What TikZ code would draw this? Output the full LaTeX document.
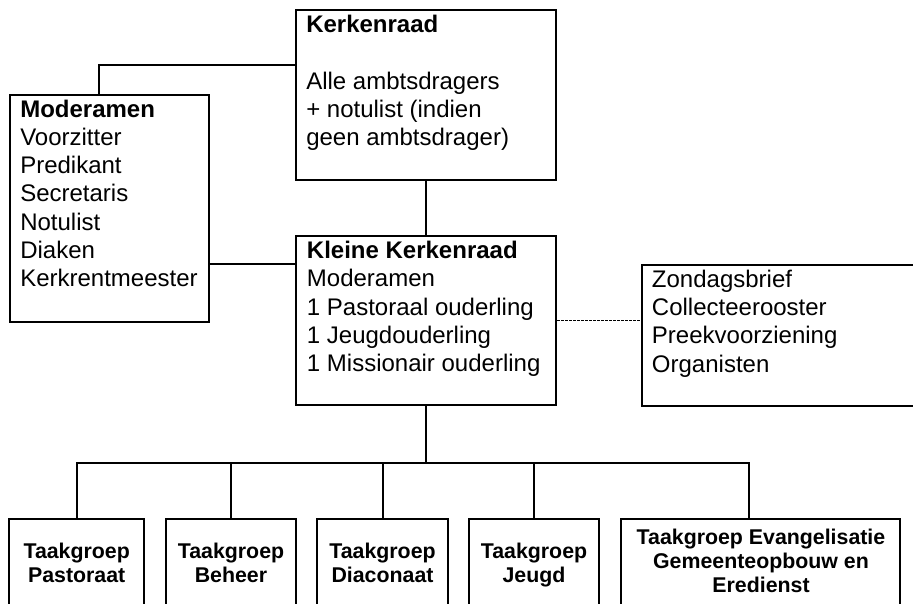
\documentclass[tikz,border=0pt]{standalone}
\usepackage{fontspec}
\setmainfont{Liberation Sans}
\usetikzlibrary{fit,calc}
\tikzset{
  boxline/.style={draw, line width=1.5pt, inner sep=0pt},
  bigtext/.style={inner sep=0pt, align=left, font=\fontsize{18}{21.2}\selectfont},
  tgtext/.style={inner sep=0pt, align=center, font=\fontsize{16}{18}\selectfont\bfseries},
  wire/.style={line width=1.5pt},
  dashwire/.style={line width=0.75pt, dash pattern=on 2.25pt off 0.75pt}
}
\begin{document}
\begin{tikzpicture}[x=0.75pt,y=-0.75pt]
\path[use as bounding box] (0,0) rectangle (913,603);
\clip (0,0) rectangle (913,603);
% boxes
\node[boxline, fit={(296,10)(556,180)}] (kr) {};
\node[boxline, fit={(9.6,95)(209,322)}] (mod) {};
\node[boxline, fit={(296,236)(556,405)}] (kk) {};
\node[boxline, fit={(642,265)(930,405.7)}] (zb) {};
\node[boxline, fit={(9.3,519)(144,640)}] (t1) {};
\node[boxline, fit={(166,519)(296,640)}] (t2) {};
\node[boxline, fit={(317,519)(448,640)}] (t3) {};
\node[boxline, fit={(469,519)(599,640)}] (t4) {};
\node[boxline, fit={(621,519)(900,640)}] (t5) {};
% texts (anchor base = baseline of last line)
\node[bigtext, anchor=base west] (krt) at (306,145.6) {\textbf{Kerkenraad}\\\mbox{}\\Alle ambtsdragers\\+ notulist (indien\\geen ambtsdrager)};
\node[bigtext, anchor=base west] (modt) at (20,286.6) {\textbf{Moderamen}\\Voorzitter\\Predikant\\Secretaris\\Notulist\\Diaken\\Kerkrentmeester};
\node[bigtext, anchor=base west] (kkt) at (306.7,371.6) {\textbf{Kleine Kerkenraad}\\Moderamen\\1 Pastoraal ouderling\\1 Jeugdouderling\\1 Missionair ouderling};
\node[bigtext, anchor=base west] (zbt) at (651.7,372) {Zondagsbrief\\Collecteerooster\\Preekvoorziening\\Organisten};
\node[tgtext, anchor=base] (t1t) at (76.7,582.5) {Taakgroep\\Pastoraat};
\node[tgtext, anchor=base] (t2t) at (231,582.5) {Taakgroep\\Beheer};
\node[tgtext, anchor=base] (t3t) at (382.5,582.5) {Taakgroep\\Diaconaat};
\node[tgtext, anchor=base] (t4t) at (534,582.5) {Taakgroep\\Jeugd};
\node[tgtext, anchor=base] (t5t) at (761,592.7) {Taakgroep Evangelisatie\\Gemeenteopbouw en\\Eredienst};
% connectors
\coordinate (m1) at ($(mod.north west)+(90.4,0)$);
\coordinate (k1) at ($(kr.north west)+(0,56)$);
\draw[wire] (m1) |- (k1);
\draw[wire] (kr.south) -- (kk.north);
\coordinate (k2) at ($(kk.north west)+(0,29)$);
\draw[wire] (k2) -- (k2 -| mod.east);
\draw[dashwire] (kk.east) -- (kk.east -| zb.west);
\coordinate (bus) at ($(kk.south)+(0,57)$);
\draw[wire] (kk.south) -- (bus);
\coordinate (t5c) at ($(t5.north west)+(129,0)$);
\draw[wire] (t1.north) -- (t1.north |- bus) -- (t5c |- bus) -- (t5c);
\draw[wire] (t2.north) -- (t2.north |- bus);
\draw[wire] (t3.north) -- (t3.north |- bus);
\draw[wire] (t4.north) -- (t4.north |- bus);
\end{tikzpicture}
\end{document}
